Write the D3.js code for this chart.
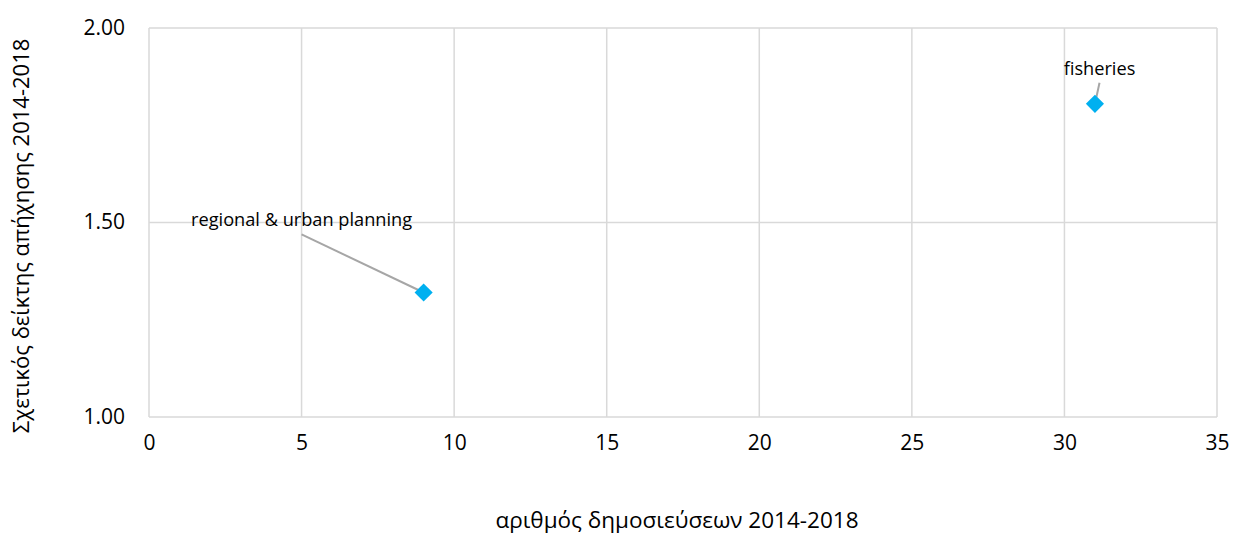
<!DOCTYPE html>
<html><head><meta charset="utf-8">
<script src="https://cdn.jsdelivr.net/npm/d3@7"></script>
<style>body{margin:0;background:#fff}text{font-family:"Open Sans","DejaVu Sans",sans-serif}</style>
</head><body><svg id="c" width="1235" height="535"></svg>
<script>
const names = ["regional & urban planning", "fisheries"];
const pubs = [9, 31];
const index = [1.32, 1.805];
const labelX = [5, 31.15];
const labelY = [1.49, 1.88];
const xTicks = [0,5,10,15,20,25,30,35];
const yTicks = [1.00,1.50,2.00];

const svg = d3.select("#c");
const m = {l:149, r:1217, t:28, b:417};
const x = d3.scaleLinear().domain([0,35]).range([m.l,m.r]);
const y = d3.scaleLinear().domain([1,2]).range([m.b,m.t]);

svg.append("g").selectAll("line").data(xTicks).join("line")
  .attr("x1",d=>x(d)).attr("x2",d=>x(d)).attr("y1",m.t).attr("y2",m.b)
  .attr("stroke","#d9d9d9").attr("stroke-width",1.5);
svg.append("g").selectAll("line").data(yTicks).join("line")
  .attr("x1",m.l).attr("x2",m.r).attr("y1",d=>y(d)).attr("y2",d=>y(d))
  .attr("stroke","#d9d9d9").attr("stroke-width",1.5);

const xa = svg.append("g").attr("transform",`translate(0,${m.b})`)
  .call(d3.axisBottom(x).tickValues(xTicks).tickSize(0).tickPadding(18).tickFormat(d3.format("d")));
xa.select(".domain").remove();
xa.selectAll("text").attr("font-size",21).attr("fill","#000");
const ya = svg.append("g").attr("transform",`translate(${m.l},0)`)
  .call(d3.axisLeft(y).tickValues(yTicks).tickSize(0).tickPadding(24).tickFormat(d3.format(".2f")));
ya.select(".domain").remove();
ya.selectAll("text").attr("font-size",21).attr("fill","#000").attr("dy","0.3em");

svg.append("g").selectAll("line").data(names).join("line")
  .attr("x1",(d,i)=>x(labelX[i])).attr("y1",(d,i)=>y(labelY[i]) + 8)
  .attr("x2",(d,i)=>x(pubs[i])).attr("y2",(d,i)=>y(index[i]))
  .attr("stroke","#a6a6a6").attr("stroke-width",2);

svg.append("g").selectAll("path").data(names).join("path")
  .attr("d", d3.symbol().type(d3.symbolSquare).size(165))
  .attr("transform",(d,i)=>`translate(${x(pubs[i])},${y(index[i])}) rotate(45)`)
  .attr("fill","#00b0f0");

svg.append("g").selectAll("text").data(names).join("text")
  .attr("x",(d,i)=>x(labelX[i])).attr("y",(d,i)=>y(labelY[i]))
  .attr("text-anchor","middle").attr("font-size",18.2).attr("fill","#000")
  .text(d=>d);

svg.append("text").attr("x",677).attr("y",528).attr("text-anchor","middle")
  .attr("font-size",22.5).text("αριθμός δημοσιεύσεων 2014-2018");
svg.append("text").attr("transform","translate(29,236) rotate(-90)").attr("text-anchor","middle")
  .attr("font-size",22).text("Σχετικός δείκτης απήχησης 2014-2018");
</script></body></html>
